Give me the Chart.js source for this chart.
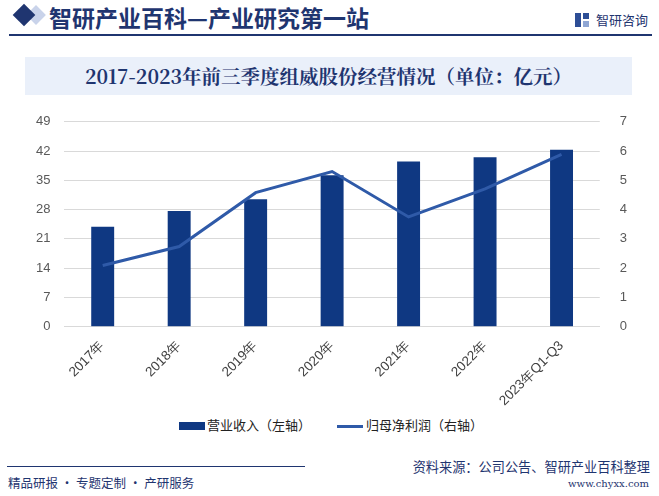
<!DOCTYPE html>
<html>
<head>
<meta charset="utf-8">
<script src="https://cdn.jsdelivr.net/npm/chart.js@4.4.0/dist/chart.umd.min.js"></script>
<style>
  body { margin: 0; width: 659px; height: 496px; background: #fff; position: relative; overflow: hidden; font-family: "Noto Sans CJK SC", sans-serif; }
  .top-title { position: absolute; left: 49px; top: 0px; font-size: 23px; font-weight: bold; color: #1f3570; }
  .diamond { position: absolute; left: 16px; top: 7px; width: 16px; height: 16px; background: #1f3570; transform: rotate(45deg); }
  .diamond2 { position: absolute; left: 29px; top: 8px; width: 14px; height: 14px; background: #c9d3ea; transform: rotate(45deg); }
  .top-line { position: absolute; left: 9px; top: 34px; width: 643px; height: 2px; background: #1f3570; }
  .logo { position: absolute; left: 596px; top: 10px; font-size: 13px; color: #1f3570; }
  .logo-icon { position: absolute; left: 575px; top: 13px; width: 6px; height: 14px; background: #2d4e96; }
  .logo-icon2 { position: absolute; left: 583px; top: 13px; width: 6px; height: 6px; background: #2d4e96; }
  .logo-icon3 { position: absolute; left: 583px; top: 21px; width: 6px; height: 6px; background: #8fa6d4; }
  .title-box { position: absolute; left: 25px; top: 57px; width: 607px; height: 38px; background: #eaf0fa; }
  .title-box div { text-align: center; line-height: 38px; font-size: 19.5px; font-weight: bold; color: #1f3570; font-family: "Noto Serif CJK SC", "Noto Sans CJK SC", serif; }
  #wrap { position: absolute; left: 0; top: 100px; width: 659px; height: 312px; }
  .legend { position: absolute; top: 415px; left: 0; width: 659px; font-size: 13px; color: #222; }
  .lg-bar { position: absolute; left: 179px; top: 7px; width: 26px; height: 8px; background: #0f3882; }
  .lg-bar-t { position: absolute; left: 207px; top: 0px; }
  .lg-line { position: absolute; left: 337px; top: 10px; width: 26px; height: 3px; background: #2f5aa8; }
  .lg-line-t { position: absolute; left: 366px; top: 0px; }
  .bottom-line { position: absolute; left: 7px; top: 466px; width: 298px; height: 1px; background: #1f3570; }
  .foot-l { position: absolute; left: 8px; top: 473px; font-size: 12.5px; color: #1f3570; }
  .foot-r { position: absolute; right: 9px; top: 457px; font-size: 13.2px; color: #1f3570; }
  .foot-url { position: absolute; right: 10px; top: 478px; font-size: 10px; color: #1f3570; font-family: "DejaVu Serif", serif; }
</style>
</head>
<body>
<div class="diamond2"></div>
<div class="diamond"></div>
<div class="top-title">智研产业百科—产业研究第一站</div>
<div class="logo-icon"></div><div class="logo-icon2"></div><div class="logo-icon3"></div>
<div class="logo">智研咨询</div>
<div class="top-line"></div>
<div class="title-box"><div>2017-2023年前三季度组威股份经营情况（单位：亿元）</div></div>
<div id="wrap"><canvas id="grafico"></canvas></div>
<div class="legend">
  <div class="lg-bar"></div><div class="lg-bar-t">营业收入（左轴）</div>
  <div class="lg-line"></div><div class="lg-line-t">归母净利润（右轴）</div>
</div>
<div class="bottom-line"></div>
<div class="foot-l">精品研报 · 专题定制 · 产研服务</div>
<div class="foot-r">资料来源：公司公告、智研产业百科整理</div>
<div class="foot-url">www.chyxx.com</div>
<script>
// dados
const anos = ["2017年", "2018年", "2019年", "2020年", "2021年", "2022年", "2023年Q1-Q3"];
const receita = [23.9, 27.7, 30.5, 36.2, 39.5, 40.5, 42.3];
const lucroLiquido = [2.09, 2.74, 4.58, 5.30, 3.75, 4.71, 5.89];
const ticksEsquerda = [0, 7, 14, 21, 28, 35, 42, 49];
const ticksDireita = [0, 1, 2, 3, 4, 5, 6, 7];

const ctx = document.getElementById("grafico").getContext("2d");
const grafico = new Chart(ctx, {
    type: "bar",
    data: {
        labels: anos,
        datasets: [
            {
                type: "line",
                label: "归母净利润（右轴）",
                data: lucroLiquido,
                yAxisID: "y1",
                borderColor: "#2f5aa8",
                borderWidth: 3,
                pointRadius: 0,
                tension: 0,
                order: 0,
            },
            {
                label: "营业收入（左轴）",
                data: receita,
                yAxisID: "y",
                backgroundColor: "#0f3882",
                barPercentage: 0.3,
                categoryPercentage: 1,
                order: 1,
            },
        ],
    },
    options: {
        responsive: true,
        maintainAspectRatio: false,
        animation: false,
        layout: { padding: { left: 22, right: 20, top: 5, bottom: 0 } },
        plugins: {
            legend: { display: false },
            tooltip: { enabled: false },
        },
        scales: {
            x: {
                grid: { display: false },
                border: { color: "#d9d9d9" },
                ticks: {
                    color: "#404040",
                    font: { family: "Liberation Sans, Arial", size: 13.5 },
                    maxRotation: 45,
                    minRotation: 45,
                },
            },
            y: {
                position: "left",
                min: 0,
                max: 49,
                afterBuildTicks: (axis) => { axis.ticks = ticksEsquerda.map(v => ({ value: v })); },
                grid: { color: "#d9d9d9", drawTicks: false },
                border: { display: false },
                ticks: { color: "#595959", padding: 14, font: { family: "Liberation Sans, Arial", size: 13 } },
            },
            y1: {
                position: "right",
                min: 0,
                max: 7,
                afterBuildTicks: (axis) => { axis.ticks = ticksDireita.map(v => ({ value: v })); },
                grid: { display: false },
                border: { display: false },
                ticks: { color: "#595959", padding: 12, font: { family: "Liberation Sans, Arial", size: 13 } },
            },
        },
    },
});
</script>
</body>
</html>
